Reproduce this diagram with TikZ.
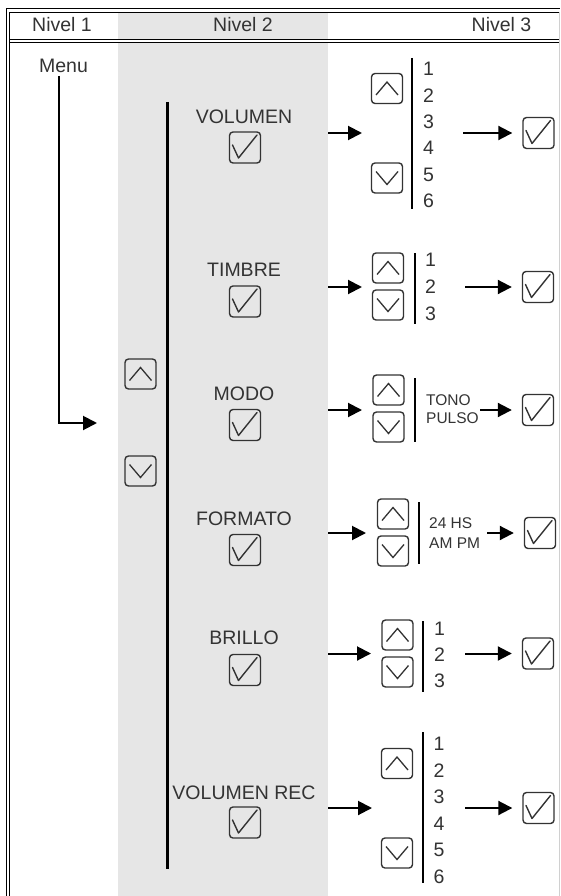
\documentclass[tikz,border=0pt]{standalone}
\usepackage{fontspec}
\setmainfont{Liberation Sans}
\usetikzlibrary{arrows.meta}
\definecolor{bg}{HTML}{E6E6E6}
\definecolor{txt}{HTML}{333333}
\definecolor{boxc}{HTML}{333333}
\definecolor{edge}{HTML}{D0D0D0}
\begin{document}
\begin{tikzpicture}[x=1pt,y=-1pt,
  lab/.style={font=\fontsize{19.5}{22}\selectfont, text=txt, inner sep=0pt},
  small/.style={font=\fontsize{15.5}{17}\selectfont, text=txt, inner sep=0pt, anchor=west},
  btn/.style={draw=boxc, line width=1.4pt, rounded corners=3.5pt, minimum width=31pt, minimum height=30pt, inner sep=0pt},
  chk/.style={btn, minimum height=31pt, path picture={\draw[sharp corners, draw=boxc, line width=1.4pt, line join=round, line cap=round] ([xshift=-12.5pt,yshift=2.5pt]path picture bounding box.center) -- ++(6pt,-13pt) -- ++(18.5pt,23pt);}},
  upb/.style={btn, path picture={\draw[sharp corners, draw=boxc, line width=1.3pt] ([xshift=-11pt,yshift=-6.5pt]path picture bounding box.center) -- ++(11pt,13pt) -- ++(11pt,-13pt);}},
  dnb/.style={btn, path picture={\draw[sharp corners, draw=boxc, line width=1.3pt] ([xshift=-11pt,yshift=6.5pt]path picture bounding box.center) -- ++(11pt,-13pt) -- ++(11pt,13pt);}},
  arr/.style={line width=2pt, -{Triangle[length=14pt,width=14pt]}},
  bar/.style={line width=2.8pt},
  frame/.style={line width=0.9pt},
]
\useasboundingbox (0,0) rectangle (560,896);
% background column
\fill[bg] (118,12.5) rectangle (328,38.6);
\fill[bg] (118,42.8) rectangle (328,896);
% frame
\draw[frame] (6.7,896) -- (6.7,8.5) -- (560,8.5);
\draw[frame] (9.7,896) -- (9.7,12) -- (560,12);
\draw[frame] (9.7,39.2) -- (560,39.2);
\draw[frame] (9.7,42.3) -- (560,42.3);
\draw[edge, line width=0.8pt] (559.3,12) -- (559.3,896);
% headers
\node[lab] (n1) at (62,25) {Nivel 1};
\node[lab] (n2) at (243,25) {Nivel 2};
\node[lab] (n3) at (501.5,25) {Nivel 3};
% level 1
\node[lab] (menu) at (63.5,66) {Menu};
\coordinate (mtop) at (59,76);
\coordinate (mend) at (97,423);
\draw[arr] (mtop) |- (mend);
% level 2 bar and buttons
\coordinate (b2t) at (167,102);
\coordinate (b2b) at (167,869);
\draw[line width=3pt] (b2t) -- (b2b);
\node[upb] (u0) at (140.5,374) {};
\node[dnb] (d0) at (140.5,471) {};
% ---------- VOLUMEN
\node[lab] (l1) at (244,117) {VOLUMEN};
\node[chk] (c1) at (245,147.5) {};
\coordinate (a1s) at (328,133); \coordinate (a1e) at (362,133);
\draw[arr] (a1s) -- (a1e);
\node[upb] (u1) at (387,88.5) {};
\node[dnb] (d1) at (387,178) {};
\coordinate (r1t) at (412,58); \coordinate (r1b) at (412,209);
\draw[bar] (r1t) -- (r1b);
\foreach \i in {1,...,6} \node[lab] (v\i) at (428.5,{68.8+26.4*(\i-1)}) {\i};
\node[chk] (e1) at (538.5,133) {};
\coordinate (o1) at (463,133);
\draw[arr] (o1) -- ([xshift=-10pt]e1.west);
% ---------- TIMBRE
\node[lab] (l2) at (244,270) {TIMBRE};
\node[chk] (c2) at (245,301.5) {};
\coordinate (a2s) at (328,287); \coordinate (a2e) at (362,287);
\draw[arr] (a2s) -- (a2e);
\node[upb] (u2) at (388,268) {};
\node[dnb] (d2) at (388,305) {};
\coordinate (r2t) at (415,253); \coordinate (r2b) at (415,324);
\draw[bar] (r2t) -- (r2b);
\foreach \i in {1,2,3} \node[lab] (t\i) at (430.5,{259.8+27.2*(\i-1)}) {\i};
\node[chk] (e2) at (538,287) {};
\coordinate (o2) at (465,287);
\draw[arr] (o2) -- ([xshift=-10pt]e2.west);
% ---------- MODO
\node[lab] (l3) at (244,394) {MODO};
\node[chk] (c3) at (245,425) {};
\coordinate (a3s) at (328,410); \coordinate (a3e) at (362,410);
\draw[arr] (a3s) -- (a3e);
\node[upb] (u3) at (388.5,390) {};
\node[dnb] (d3) at (388.5,427) {};
\coordinate (r3t) at (415,378); \coordinate (r3b) at (415,442);
\draw[bar] (r3t) -- (r3b);
\node[small] (tono) at (426,400) {TONO};
\node[small] (pulso) at (426,418) {PULSO};
\node[chk] (e3) at (538,410) {};
\coordinate (o3) at (480,410);
\draw[arr] (o3) -- ([xshift=-10pt]e3.west);
% ---------- FORMATO
\node[lab] (l4) at (244,519) {FORMATO};
\node[chk] (c4) at (245,550) {};
\coordinate (a4s) at (328,533); \coordinate (a4e) at (366,533);
\draw[arr] (a4s) -- (a4e);
\node[upb] (u4) at (393,514) {};
\node[dnb] (d4) at (393,551) {};
\coordinate (r4t) at (419,502); \coordinate (r4b) at (419,564);
\draw[bar] (r4t) -- (r4b);
\node[small] (hs) at (429,523) {24 HS};
\node[small] (ampm) at (429,543) {AM PM};
\node[chk] (e4) at (540,533) {};
\coordinate (o4) at (487,533);
\draw[arr] (o4) -- ([xshift=-10pt]e4.west);
% ---------- BRILLO
\node[lab] (l5) at (244,638) {BRILLO};
\node[chk] (c5) at (245,670) {};
\coordinate (a5s) at (328,653.5); \coordinate (a5e) at (371,653.5);
\draw[arr] (a5s) -- (a5e);
\node[upb] (u5) at (397.5,635) {};
\node[dnb] (d5) at (397.5,672) {};
\coordinate (r5t) at (423,621); \coordinate (r5b) at (423,692);
\draw[bar] (r5t) -- (r5b);
\foreach \i in {1,2,3} \node[lab] (b\i) at (439.5,{628.5+26*(\i-1)}) {\i};
\node[chk] (e5) at (538,653.5) {};
\coordinate (o5) at (465,653.5);
\draw[arr] (o5) -- ([xshift=-10pt]e5.west);
% ---------- VOLUMEN REC
\node[lab] (l6) at (244,792.5) {VOLUMEN REC};
\node[chk] (c6) at (245,822.5) {};
\coordinate (a6s) at (328,808); \coordinate (a6e) at (372,808);
\draw[arr] (a6s) -- (a6e);
\node[upb] (u6) at (397,763.5) {};
\node[dnb] (d6) at (397,853) {};
\coordinate (r6t) at (423,732); \coordinate (r6b) at (423,883);
\draw[bar] (r6t) -- (r6b);
\foreach \i in {1,...,6} \node[lab] (w\i) at (439,{744+26.5*(\i-1)}) {\i};
\node[chk] (e6) at (538.5,808) {};
\coordinate (o6) at (465,808);
\draw[arr] (o6) -- ([xshift=-10pt]e6.west);
\end{tikzpicture}
\end{document}
